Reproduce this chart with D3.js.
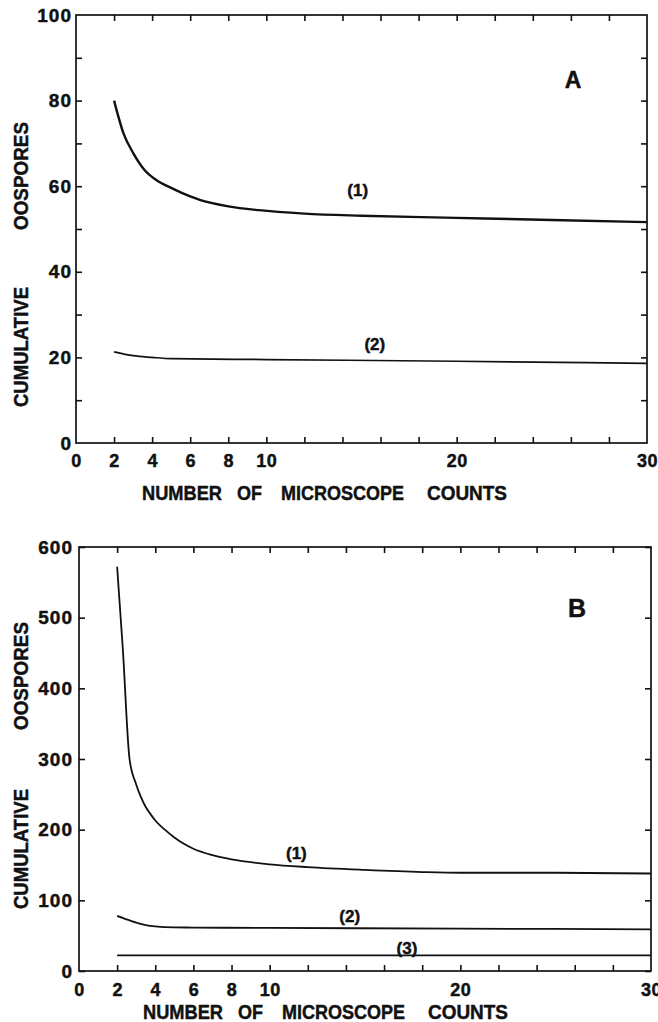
<!DOCTYPE html>
<html>
<head>
<meta charset="utf-8">
<title>Cumulative oospores</title>
<script src="https://cdn.jsdelivr.net/npm/d3@7"></script>
<style>
  body { margin: 0; background: #fff; }
  text { font-family: "Liberation Sans", Arial, sans-serif; font-weight: bold; fill: #111; stroke: #111; stroke-width: 0.45px; }
</style>
</head>
<body>
<svg id="svg" width="658" height="1022"></svg>
<script>
// tick values
var xLabels = [0, 2, 4, 6, 8, 10, 20, 30];
var xTicks = [2, 4, 6, 8, 10, 12, 14, 16, 18, 20, 22, 24, 26, 28];
var yLabelsA = [0, 20, 40, 60, 80, 100];
var yTicksA = [10, 20, 30, 40, 50, 60, 70, 80, 90];
var yLabelsB = [0, 100, 200, 300, 400, 500, 600];

// panel A curves [counts, cumulative oospores]
var curveA1 = [[2, 80], [2.5, 72.3], [3, 67.8], [3.6, 63.8], [4.2, 61.5], [5, 59.6], [6, 57.6], [6.5, 56.8],
               [8, 55.3], [9.6, 54.4], [12, 53.6], [15, 53.1], [20, 52.6], [25, 52.1], [30, 51.6]];
var curveA2 = [[2, 21.3], [3, 20.4], [4, 20], [5, 19.7], [10, 19.5], [20, 19.1], [30, 18.6]];

// panel B curves
var curveB1 = [[2, 572], [2.3, 455], [2.65, 300], [3, 264], [3.25, 246], [3.5, 232], [3.75, 222], [4, 213],
               [4.5, 200], [5, 189], [5.5, 180], [6, 173], [7, 164], [8, 158], [10, 151], [12, 147],
               [15, 143], [18, 140], [20, 139], [25, 139], [30, 138]];
var curveB2 = [[2, 78], [2.5, 73], [3, 68.5], [3.5, 65], [4, 63], [4.5, 62], [6, 61.5], [10, 61], [20, 60], [30, 59]];
var curveB3 = [[2, 22], [10, 22], [20, 22], [30, 22]];

var svg = d3.select('#svg');

function drawPanel(p) {
    var x = d3.scaleLinear().domain([0, 30]).range([p.left, p.right]);
    var y = d3.scaleLinear().domain([0, p.ymax]).range([p.bottom, p.top]);
    var g = svg.append('g');

    // frame
    g.append('rect')
     .attr('x', p.left).attr('y', p.top)
     .attr('width', p.right - p.left).attr('height', p.bottom - p.top)
     .attr('fill', 'none').attr('stroke', '#111').attr('stroke-width', 1.7);

    // inward ticks on all four sides
    function ticksOnly(axis, vals, tx, ty) {
        g.append('g').attr('transform', 'translate(' + tx + ',' + ty + ')')
         .call(axis.tickValues(vals).tickSize(-6).tickFormat(''))
         .call(function(s){ s.select('.domain').remove(); s.selectAll('line').attr('stroke', '#111').attr('stroke-width', 1.6); });
    }
    ticksOnly(d3.axisBottom(x), xTicks, 0, p.bottom);
    ticksOnly(d3.axisTop(x), xTicks, 0, p.top);
    ticksOnly(d3.axisLeft(y), p.yTicks, p.left, 0);
    ticksOnly(d3.axisRight(y), p.yTicks, p.right, 0);

    // labels
    g.append('g').attr('transform', 'translate(0,' + p.bottom + ')')
     .call(d3.axisBottom(x).tickValues(xLabels).tickSize(0).tickPadding(p.xPad).tickFormat(d3.format('d')))
     .call(function(s){ s.select('.domain').remove();
        s.selectAll('text').attr('font-size', 18).attr('fill', '#111').attr('font-family', null).attr('letter-spacing', 0.5); });
    g.append('g').attr('transform', 'translate(' + p.left + ',0)')
     .call(d3.axisLeft(y).tickValues(p.yLabels).tickSize(0).tickPadding(p.yPad).tickFormat(d3.format('d')))
     .call(function(s){ s.select('.domain').remove();
        s.selectAll('text').attr('font-size', 19).attr('fill', '#111').attr('font-family', null).attr('letter-spacing', 1); });

    // curves
    var line = d3.line().x(function(d){ return x(d[0]); }).y(function(d){ return y(d[1]); })
                 .curve(d3.curveMonotoneX);
    p.curves.forEach(function(c) {
        g.append('path').datum(c.data).attr('d', line)
         .attr('fill', 'none').attr('stroke', '#111').attr('stroke-width', c.w);
        g.append('text').attr('x', x(c.lx)).attr('y', y(c.ly))
         .attr('text-anchor', 'middle').attr('font-size', 17).text(c.name);
    });

    // panel letter
    g.append('text').attr('x', p.letterX).attr('y', p.letterY)
     .attr('text-anchor', 'middle').attr('font-size', p.letterSize).text(p.letter);

    // y titles
    [['OOSPORES', p.oosY, 108], ['CUMULATIVE', p.cumY, 120]].forEach(function(t) {
        g.append('text').attr('transform', 'translate(21,' + t[1] + ') rotate(-90)')
         .attr('text-anchor', 'middle').attr('dy', '0.36em').attr('font-size', 20)
         .attr('textLength', t[2]).attr('lengthAdjust', 'spacingAndGlyphs').text(t[0]);
    });

    // x title, word by word
    [['NUMBER', 143, 80], ['OF', 238, 25], ['MICROSCOPE', 282, 123], ['COUNTS', 428, 80]].forEach(function(w) {
        g.append('text').attr('x', w[1] + p.titleDx).attr('y', p.titleY).attr('font-size', 20)
         .attr('textLength', w[2]).attr('lengthAdjust', 'spacingAndGlyphs').text(w[0]);
    });
}

drawPanel({
    left: 76, right: 647, top: 15, bottom: 443, ymax: 100,
    yTicks: yTicksA, yLabels: yLabelsA, xPad: 11, yPad: 4,
    curves: [
        { data: curveA1, w: 2.4, name: '(1)', lx: 14.8, ly: 57.8 },
        { data: curveA2, w: 1.7, name: '(2)', lx: 15.7, ly: 21.8 }
    ],
    letter: 'A', letterX: 573, letterY: 88, letterSize: 23,
    oosY: 176, cumY: 347, titleY: 500, titleDx: -1
});

drawPanel({
    left: 79, right: 651, top: 547, bottom: 971, ymax: 600,
    yTicks: yLabelsB, yLabels: yLabelsB, xPad: 12, yPad: 6,
    curves: [
        { data: curveB1, w: 1.8, name: '(1)', lx: 11.4, ly: 158 },
        { data: curveB2, w: 1.8, name: '(2)', lx: 14.2, ly: 69 },
        { data: curveB3, w: 1.7, name: '(3)', lx: 17.2, ly: 24 }
    ],
    letter: 'B', letterX: 577, letterY: 617, letterSize: 25,
    oosY: 676, cumY: 849, titleY: 1019, titleDx: 0
});
</script>
</body>
</html>
